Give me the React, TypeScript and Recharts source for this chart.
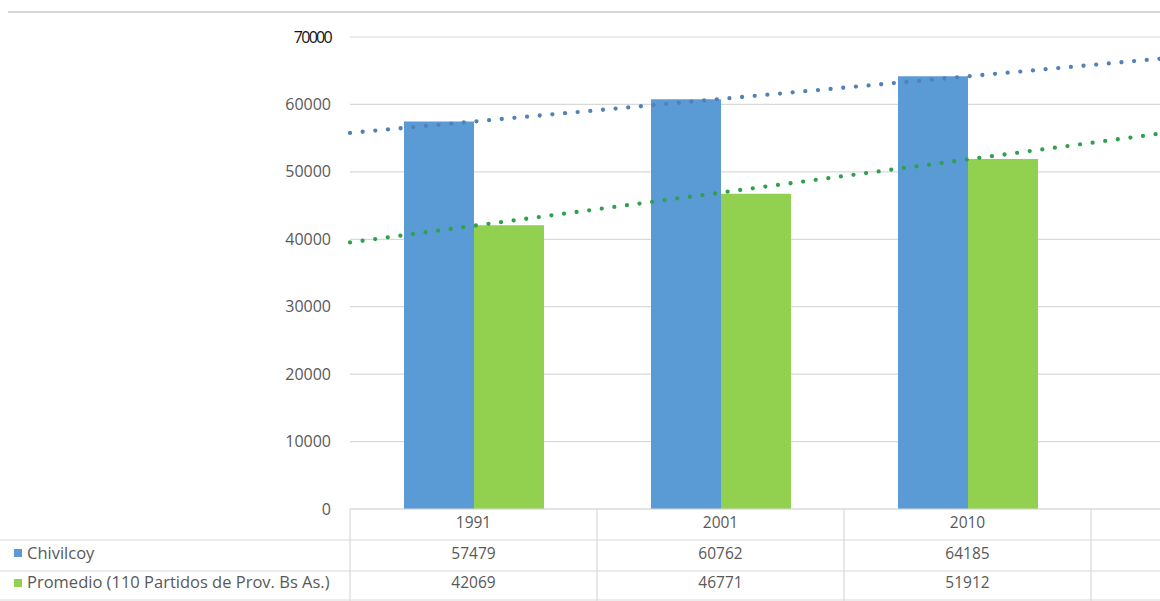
import React from 'react';
import { BarChart, Bar, XAxis, YAxis, CartesianGrid, ReferenceLine } from 'recharts';

const years = ['1991', '2001', '2010', ''];
const chivilcoy: (number | null)[] = [57479, 60762, 64185, null];
const promedio: (number | null)[] = [42069, 46771, 51912, null];
const yTicks = [0, 10000, 20000, 30000, 40000, 50000, 60000, 70000];
const seriesNames = ['Chivilcoy', 'Promedio (110 Partidos de Prov. Bs As.)'];

const BLUE = '#5b9bd5';
const GREEN = '#92d050';
const BLUE_TREND = '#5280b8';
const GREEN_TREND = '#2fa04c';
const GRID = '#d9d9d9';
const TEXT = '#595959';
const FONT = '"Open Sans", "Noto Sans", sans-serif';

const CHART_W = 1340;
const CHART_H = 601;
const M_TOP = 37;
const Y_AXIS_W = 350;
const X_AXIS_H = 92;
const PLOT_W = CHART_W - Y_AXIS_W - 2;
const BAND = PLOT_W / years.length;
const AXIS_Y = CHART_H - X_AXIS_H;

const data = years.map((year, i) => ({
  year,
  idx: i + 1,
  chivilcoy: chivilcoy[i],
  promedio: promedio[i],
}));

function trendSegment(values: (number | null)[]) {
  const pts = values
    .map((v, i) => [i + 1, v] as [number, number | null])
    .filter((p) => p[1] != null) as [number, number][];
  const n = pts.length;
  const mx = pts.reduce((s, p) => s + p[0], 0) / n;
  const my = pts.reduce((s, p) => s + p[1], 0) / n;
  let num = 0;
  let den = 0;
  pts.forEach(([x, y]) => {
    num += (x - mx) * (y - my);
    den += (x - mx) * (x - mx);
  });
  const b = num / den;
  const a = my - b * mx;
  const x0 = 0.5;
  const x1 = years.length + 0.5;
  return [
    { x: x0, y: a + b * x0 },
    { x: x1, y: a + b * x1 },
  ];
}

const YTick = (props: any) => {
  const { y, payload } = props;
  const top = payload.value === 70000;
  return (
    <text
      x={331}
      y={y + 5.5}
      textAnchor="end"
      fontSize={16}
      fontFamily={FONT}
      fill={top ? '#111' : TEXT}
      letterSpacing={top ? -1.7 : 0}
    >
      {String(payload.value)}
    </text>
  );
};

const XTick = (props: any) => {
  const { x, payload } = props;
  const i = payload && payload.index != null ? payload.index : props.index;
  const left = x - BAND / 2;
  const rowLines = [540, 571, 600];
  return (
    <g>
      <line x1={left} x2={left} y1={AXIS_Y} y2={CHART_H} stroke={GRID} strokeWidth={1.2} />
      <text x={x} y={528} textAnchor="middle" fontSize={15.5} fontFamily={FONT} fill={TEXT}>
        {years[i]}
      </text>
      <text x={x} y={559} textAnchor="middle" fontSize={15.5} fontFamily={FONT} fill={TEXT}>
        {chivilcoy[i] != null ? String(chivilcoy[i]) : ''}
      </text>
      <text x={x} y={588} textAnchor="middle" fontSize={15.5} fontFamily={FONT} fill={TEXT}>
        {promedio[i] != null ? String(promedio[i]) : ''}
      </text>
      {i === 0 && (
        <g>
          {rowLines.map((ly) => (
            <line key={ly} x1={0} x2={CHART_W} y1={ly} y2={ly} stroke={GRID} strokeWidth={1.2} />
          ))}
          <rect x={14} y={549} width={8} height={8} fill={BLUE} />
          <text x={27} y={559} fontSize={16.5} fontFamily={FONT} fill={TEXT}>
            {seriesNames[0]}
          </text>
          <rect x={14} y={579} width={8} height={8} fill={GREEN} />
          <text x={27} y={588} fontSize={16.5} fontFamily={FONT} fill={TEXT}>
            {seriesNames[1]}
          </text>
        </g>
      )}
    </g>
  );
};

export default function App() {
  const blueTrend = trendSegment(chivilcoy);
  const greenTrend = trendSegment(promedio);
  return (
    <div
      style={{
        position: 'absolute',
        left: 0,
        top: 0,
        width: 1160,
        height: 601,
        overflow: 'hidden',
        background: '#fff',
      }}
    >
      <div
        style={{
          position: 'absolute',
          left: 8,
          top: 11,
          width: 1152,
          height: 2,
          background: '#d6d6d6',
        }}
      />
      <BarChart
        width={CHART_W}
        height={CHART_H}
        data={data}
        margin={{ top: M_TOP, right: 2, left: 0, bottom: 0 }}
        barGap={0}
        barSize={70}
      >
        <CartesianGrid vertical={false} stroke={GRID} strokeWidth={1.2} />
        <XAxis
          xAxisId="cat"
          dataKey="year"
          type="category"
          height={X_AXIS_H}
          interval={0}
          tickLine={false}
          axisLine={{ stroke: GRID, strokeWidth: 1.2 }}
          tick={<XTick />}
        />
        <XAxis
          xAxisId="num"
          dataKey="idx"
          type="number"
          domain={[0.5, years.length + 0.5]}
          allowDataOverflow
          hide
        />
        <YAxis
          width={Y_AXIS_W}
          domain={[0, 70000]}
          ticks={yTicks}
          interval={0}
          tickLine={false}
          axisLine={false}
          tick={<YTick />}
        />
        <Bar xAxisId="cat" dataKey="chivilcoy" fill={BLUE} isAnimationActive={false} />
        <Bar xAxisId="cat" dataKey="promedio" fill={GREEN} isAnimationActive={false} />
        <ReferenceLine
          xAxisId="num"
          segment={blueTrend}
          stroke={BLUE_TREND}
          strokeWidth={4.3}
          strokeDasharray="0 12.7"
          strokeLinecap="round"
          ifOverflow="visible"
        />
        <ReferenceLine
          xAxisId="num"
          segment={greenTrend}
          stroke={GREEN_TREND}
          strokeWidth={4.3}
          strokeDasharray="0 12.7"
          strokeLinecap="round"
          ifOverflow="visible"
        />
      </BarChart>
    </div>
  );
}
